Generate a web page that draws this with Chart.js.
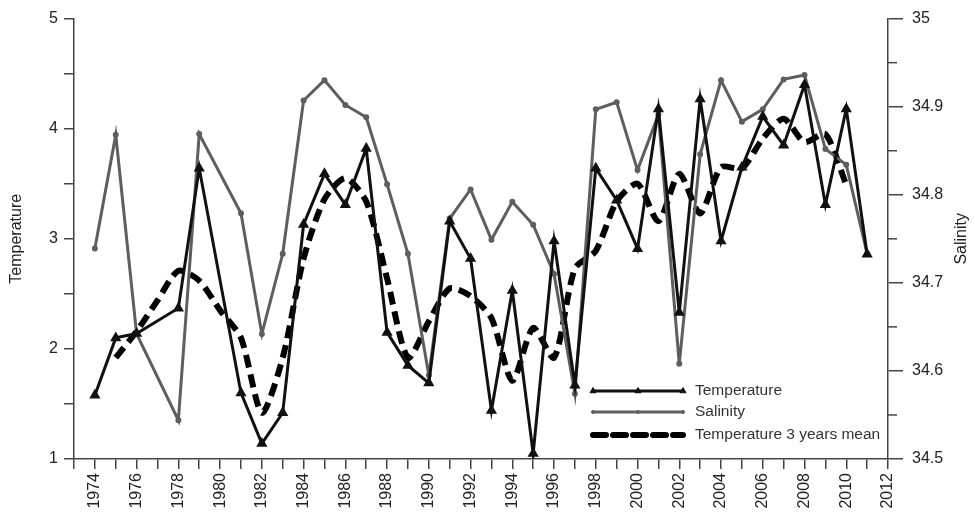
<!DOCTYPE html>
<html>
<head>
<meta charset="utf-8">
<script src="https://cdn.jsdelivr.net/npm/chart.js@4/dist/chart.umd.min.js"></script>
<style>
  html, body { margin: 0; padding: 0; background: #fff; }
  #wrap { width: 975px; height: 519px; }
</style>
</head>
<body>
<div id="wrap"><canvas id="chart" width="975" height="519"></canvas></div>
<script>
const years = [1974, 1975, 1976, 1977, 1978, 1979, 1980, 1981, 1982, 1983,
               1984, 1985, 1986, 1987, 1988, 1989, 1990, 1991, 1992, 1993,
               1994, 1995, 1996, 1997, 1998, 1999, 2000, 2001, 2002, 2003,
               2004, 2005, 2006, 2007, 2008, 2009, 2010, 2011];

const temperature = [1.58, 2.10, 2.14, null, 2.37, 3.64, null, 1.60, 1.14, 1.42,
                     3.13, 3.59, 3.31, 3.82, 2.15, 1.85, 1.69, 3.16, 2.82, 1.44,
                     2.53, 1.05, 2.98, 1.67, 3.64, 3.35, 2.91, 4.18, 2.33, 4.27,
                     2.98, 3.65, 4.11, 3.85, 4.40, 3.31, 4.18, 2.86];

const salinity = [34.739, 34.868, 34.642, null, 34.544, 34.869, null, 34.779, 34.642, 34.733,
                  34.907, 34.930, 34.902, 34.888, 34.812, 34.733, 34.595, 34.773, 34.806, 34.749,
                  34.792, 34.766, 34.710, 34.574, 34.897, 34.905, 34.828, 34.891, 34.608, 34.846,
                  34.930, 34.883, 34.897, 34.931, 34.936, 34.852, 34.834, 34.733];

const tempMean3 = [null, 1.92, 2.16, 2.44, 2.71, 2.62, 2.35, 2.10, 1.42, 1.92,
                   2.82, 3.36, 3.55, 3.34, 2.64, 1.92, 2.25, 2.55, 2.48, 2.28,
                   1.71, 2.19, 1.92, 2.73, 2.89, 3.34, 3.50, 3.16, 3.59, 3.23,
                   3.65, 3.64, 3.91, 4.09, 3.88, 3.95, 3.49, null];

const seriesNames = ['Temperature', 'Salinity', 'Temperature 3 years mean'];

const FONT = '"Liberation Sans", Arial, Helvetica, sans-serif';
const AXIS = '#444';

function toPoints(vals) {
    return years.map((y, i) => ({ x: y, y: vals[i] }));
}

function isSalLabel(v) {
    return Math.round(v * 100) % 10 === 0;
}

// legend inside the plot, short minor ticks on the salinity axis, right title reading upward
const overlayPlugin = {
    id: 'overlay',
    afterDraw(chart) {
        const ctx = chart.ctx;
        const area = chart.chartArea;
        ctx.save();

        // minor ticks on y1
        const y1 = chart.scales.y1;
        ctx.strokeStyle = AXIS;
        ctx.lineWidth = 1.5;
        y1.ticks.forEach(t => {
            if (isSalLabel(t.value)) return;
            const py = y1.getPixelForValue(t.value);
            ctx.beginPath();
            ctx.moveTo(y1.left, py);
            ctx.lineTo(y1.left + 9, py);
            ctx.stroke();
        });

        const x0 = area.right - 295, x1 = area.right - 205;
        const rows = [area.bottom - 68, area.bottom - 47, area.bottom - 24];
        chart.data.datasets.forEach((ds, i) => {
            const y = rows[i];
            ctx.beginPath();
            ctx.strokeStyle = ds.borderColor;
            ctx.lineWidth = ds.borderWidth;
            ctx.setLineDash(ds.borderDash || []);
            ctx.lineCap = ds.borderDash ? 'round' : 'butt';
            ctx.moveTo(x0, y);
            ctx.lineTo(x1, y);
            ctx.stroke();
            ctx.setLineDash([]);
            if (ds.pointRadius > 0) {
                [x0, (x0 + x1) / 2, x1].forEach(px => {
                    ctx.fillStyle = ds.pointBackgroundColor;
                    ctx.strokeStyle = ds.pointBorderColor;
                    ctx.lineWidth = 1;
                    Chart.helpers.drawPoint(ctx, {
                        pointStyle: ds.pointStyle,
                        radius: ds.pointRadius,
                        borderWidth: 1
                    }, px, y);
                });
            }
            ctx.fillStyle = '#333';
            ctx.font = '15.5px ' + FONT;
            ctx.textBaseline = 'middle';
            ctx.textAlign = 'left';
            ctx.fillText(ds.label, x1 + 12, y);
        });

        ctx.translate(962, (area.top + area.bottom) / 2);
        ctx.rotate(-Math.PI / 2);
        ctx.fillStyle = '#222';
        ctx.font = '16px ' + FONT;
        ctx.textAlign = 'center';
        ctx.textBaseline = 'middle';
        ctx.fillText('Salinity', 0, 0);
        ctx.restore();
    }
};

const gridOpts = { display: true, drawOnChartArea: false, drawTicks: true, tickLength: 10, color: AXIS, lineWidth: 1.5 };
const borderOpts = { display: true, color: AXIS, width: 1.5 };

new Chart(document.getElementById('chart'), {
    type: 'line',
    data: {
        datasets: [
            {
                label: seriesNames[0],
                data: toPoints(temperature),
                borderColor: '#111',
                borderWidth: 3,
                pointStyle: 'triangle',
                pointRadius: 3.5,
                pointBackgroundColor: '#111',
                pointBorderColor: '#111',
                spanGaps: true,
                tension: 0,
                yAxisID: 'y'
            },
            {
                label: seriesNames[1],
                data: toPoints(salinity),
                borderColor: '#5e5e5e',
                borderWidth: 3,
                pointStyle: 'circle',
                pointRadius: 1.5,
                pointBackgroundColor: '#5e5e5e',
                pointBorderColor: '#5e5e5e',
                spanGaps: true,
                tension: 0,
                yAxisID: 'y1'
            },
            {
                label: seriesNames[2],
                data: toPoints(tempMean3),
                borderColor: '#000',
                borderWidth: 6,
                borderDash: [13, 7],
                pointRadius: 0,
                tension: 0.25,
                yAxisID: 'y'
            }
        ]
    },
    options: {
        responsive: false,
        animation: false,
        devicePixelRatio: 1,
        layout: { padding: { top: 16, right: 0, left: 0, bottom: 0 } },
        plugins: { legend: { display: false }, tooltip: { enabled: false } },
        scales: {
            x: {
                type: 'linear',
                min: 1973,
                max: 2012,
                grid: gridOpts,
                border: borderOpts,
                ticks: {
                    stepSize: 1,
                    autoSkip: false,
                    minRotation: 90,
                    maxRotation: 90,
                    color: '#222',
                    font: { family: FONT, size: 16 },
                    padding: 4,
                    callback: v => (v % 2 === 0 ? String(v) : '')
                },
                afterFit: s => { s.height = 60; }
            },
            y: {
                position: 'left',
                min: 1,
                max: 5,
                grid: gridOpts,
                border: borderOpts,
                title: { display: true, text: 'Temperature', color: '#222', font: { family: FONT, size: 16 }, padding: { top: 7, bottom: 0 } },
                ticks: {
                    stepSize: 0.5,
                    color: '#222',
                    font: { family: FONT, size: 16 },
                    padding: 6,
                    callback: v => (Number.isInteger(v) ? String(v) : '')
                },
                afterFit: s => { s.width = 74; }
            },
            y1: {
                position: 'right',
                min: 34.5,
                max: 35,
                grid: Object.assign({}, gridOpts, {
                    tickLength: 15,
                    tickColor: c => (c.tick && isSalLabel(c.tick.value) ? AXIS : 'rgba(0,0,0,0)')
                }),
                border: borderOpts,
                ticks: {
                    stepSize: 0.05,
                    color: '#222',
                    font: { family: FONT, size: 16 },
                    padding: 9,
                    callback: v => (isSalLabel(v) ? String(Math.round(v * 100) / 100) : '')
                },
                afterFit: s => { s.width = 87; }
            }
        }
    },
    plugins: [overlayPlugin]
});
</script>
</body>
</html>
